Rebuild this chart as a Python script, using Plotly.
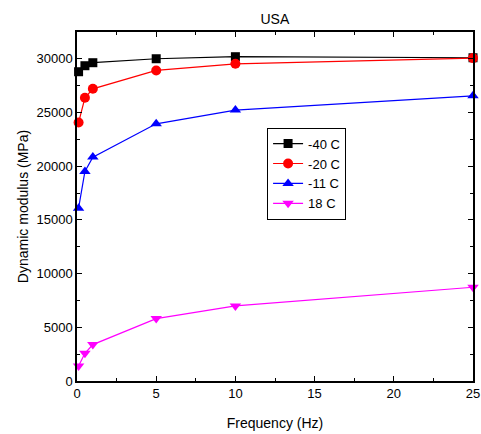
import plotly.graph_objects as go

# Frequency sweep (Hz) and dynamic modulus (MPa) at each test temperature
frequency = [0.1, 0.5, 1, 5, 10, 25]
modulus_m40 = [28800, 29360, 29640, 30010, 30200, 30100]
modulus_m20 = [24070, 26370, 27210, 28920, 29540, 30070]
modulus_m11 = [16090, 19510, 20850, 23950, 25230, 26560]
modulus_p18 = [1400, 2580, 3390, 5810, 6990, 8730]

series = [
    ("-40 C", modulus_m40, "black", "square"),
    ("-20 C", modulus_m20, "red", "circle"),
    ("-11 C", modulus_m11, "blue", "triangle-up"),
    ("18 C", modulus_p18, "magenta", "triangle-down"),
]

fig = go.Figure()
for name, vals, color, symbol in series:
    fig.add_trace(go.Scatter(
        x=frequency, y=vals, name=name, mode="lines+markers",
        line=dict(color=color, width=1.2),
        marker=dict(color=color, symbol=symbol, size=10 if symbol != "square" else 9),
        cliponaxis=False,
    ))

font_family = "Liberation Sans, Arial, sans-serif"
axis_common = dict(
    showline=True, linecolor="black", linewidth=1.5, mirror="ticks",
    ticks="inside", ticklen=5, tickcolor="black", tickwidth=1,
    showgrid=False, zeroline=False, automargin=False,
    tickfont=dict(family=font_family, size=13, color="black"),
)

fig.update_layout(
    width=481, height=434,
    margin=dict(l=77, r=8, t=32, b=53),
    paper_bgcolor="white", plot_bgcolor="white",
    title=dict(text="USA", x=0.5715, xanchor="center", y=0.955, yanchor="middle",
               font=dict(family=font_family, size=14, color="black")),
    font=dict(family=font_family, color="black"),
    xaxis=dict(range=[0, 25], tickvals=[0, 5, 10, 15, 20, 25], tickformat="d",
               minor=dict(ticks="inside", ticklen=3, tickcolor="black", dtick=2.5, tick0=0),
               title=dict(text="Frequency (Hz)", font=dict(size=14), standoff=18),
               **axis_common),
    yaxis=dict(range=[0, 32500], tickvals=[0, 5000, 10000, 15000, 20000, 25000, 30000],
               tickformat="d",
               minor=dict(ticks="inside", ticklen=3, tickcolor="black", dtick=2500, tick0=0),
               title=dict(text="Dynamic modulus (MPa)", font=dict(size=14), standoff=5),
               **axis_common),
    legend=dict(x=0.48, y=0.726, xanchor="left", yanchor="top",
                bordercolor="black", borderwidth=1, bgcolor="white",
                font=dict(family=font_family, size=13, color="black"),
                tracegroupgap=0, itemwidth=30),
    showlegend=True,
)

fig.write_html("out.html")
